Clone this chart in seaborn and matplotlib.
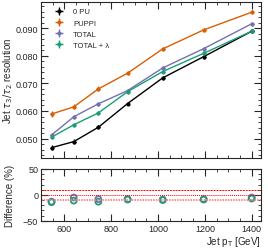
import matplotlib
matplotlib.use("Agg")
import matplotlib.pyplot as plt
import numpy as np
import pandas as pd
import seaborn as sns
from matplotlib.ticker import MultipleLocator

# jet pT bin centres [GeV]
pt = [545, 640, 745, 870, 1020, 1195, 1400]

res_0pu = [0.0467, 0.0489, 0.0541, 0.0627, 0.0720, 0.0797, 0.0889]
res_puppi = [0.0589, 0.0615, 0.0680, 0.0737, 0.0825, 0.0894, 0.0958]
res_total = [0.0513, 0.0579, 0.0626, 0.0674, 0.0756, 0.0826, 0.0916]
res_total_lam = [0.0505, 0.0550, 0.0593, 0.0670, 0.0743, 0.0809, 0.0889]

err_0pu = [0.0008, 0.0008, 0.0008, 0.0007, 0.0008, 0.0007, 0.0008]
err_puppi = [0.0012, 0.0009, 0.0009, 0.0008, 0.0008, 0.0007, 0.0007]
err_total = [0.0009, 0.0008, 0.0008, 0.0007, 0.0008, 0.0007, 0.0008]
err_total_lam = [0.0008, 0.0007, 0.0007, 0.0008, 0.0007, 0.0007, 0.0007]

# difference w.r.t. PUPPI [%]
diff_total = [-13, -5, -8, -8, -9, -8, -5]
diff_total_lam = [-14, -11, -13, -9, -10, -9, -7]

labels = ["0 PU", "PUPPI", "TOTAL", "TOTAL + λ"]
colors = ["black", "#d95f02", "#7570b3", "#1b9e77"]

sns.set_style("ticks")
plt.rcParams["font.family"] = ["Liberation Sans", "DejaVu Sans"]

fig = plt.figure(figsize=(2.68, 2.51), dpi=100)
ax = fig.add_axes([0.153, 0.367, 0.821, 0.621])
rax = fig.add_axes([0.153, 0.116, 0.821, 0.207])

series = [(res_0pu, err_0pu), (res_puppi, err_puppi),
          (res_total, err_total), (res_total_lam, err_total_lam)]
df = pd.DataFrame({
    "pt": pt * 4,
    "res": res_0pu + res_puppi + res_total + res_total_lam,
    "sample": sum([[l] * len(pt) for l in labels], []),
})
sns.lineplot(data=df, x="pt", y="res", hue="sample", palette=colors,
             hue_order=labels, lw=1.0, legend=False, ax=ax)

handles = []
for (vals, errs), lab, c in zip(series, labels, colors):
    h = ax.errorbar(pt, vals, yerr=errs, xerr=8, fmt="o", ms=2.0, color=c,
                    elinewidth=1.0, capsize=0, lw=1.0, label=lab)
    handles.append(h)

ax.legend(handles=handles, labels=labels, loc="upper left", frameon=False,
          fontsize=5.5, handlelength=2.0, borderaxespad=0.4, labelspacing=0.5,
          bbox_to_anchor=(0.02, 1.0))

ax.set_xlim(500, 1440)
ax.set_ylim(0.043, 0.0995)
ax.yaxis.set_major_locator(MultipleLocator(0.01))
ax.yaxis.set_minor_locator(MultipleLocator(0.002))
ax.xaxis.set_major_locator(MultipleLocator(200))
ax.xaxis.set_minor_locator(MultipleLocator(50))
ax.set_yticks([0.05, 0.06, 0.07, 0.08, 0.09])
ax.set_yticklabels(["0.050", "0.060", "0.070", "0.080", "0.090"])
ax.tick_params(labelbottom=False)
ax.set_ylabel(r"Jet $\tau_3/\tau_2$ resolution", fontsize=7)
ax.yaxis.set_label_coords(-0.12, 0.5)
ax.set_xlabel("")

rax.axhline(10, color="red", lw=0.7, ls=(0, (2, 1)))
rax.axhline(0, color="red", lw=0.7, ls=(0, (1, 1)))
rax.axhline(-10, color="#ff8080", lw=1.2, ls=(0, (1, 0.6)))

rdf = pd.DataFrame({
    "pt": pt * 2,
    "diff": diff_total + diff_total_lam,
    "sample": ["TOTAL"] * len(pt) + ["TOTAL + λ"] * len(pt),
})
sns.scatterplot(data=rdf, x="pt", y="diff", hue="sample",
                palette=[colors[2], colors[3]], marker="o", s=18,
                linewidth=1.3, legend=False, ax=rax)
for coll in rax.collections:
    ec = coll.get_facecolors()
    coll.set_edgecolors(ec)
    coll.set_facecolor("none")

rax.set_xlim(500, 1440)
rax.set_ylim(-50, 50)
rax.yaxis.set_major_locator(MultipleLocator(50))
rax.yaxis.set_minor_locator(MultipleLocator(10))
rax.xaxis.set_major_locator(MultipleLocator(200))
rax.xaxis.set_minor_locator(MultipleLocator(50))
rax.set_ylabel("Difference (%)", fontsize=7)
rax.yaxis.set_label_coords(-0.12, 0.5)
rax.set_xlabel(r"Jet p$_\mathrm{T}$ [GeV]", fontsize=7, loc="right", labelpad=1)

for a in (ax, rax):
    a.tick_params(which="both", direction="in", top=True, right=True,
                  labelsize=6.5, pad=2)
    a.tick_params(which="major", length=5, width=0.8)
    a.tick_params(which="minor", length=2.5, width=0.6)
    for s in a.spines.values():
        s.set_linewidth(0.8)

fig.savefig("out.png", dpi=100)
